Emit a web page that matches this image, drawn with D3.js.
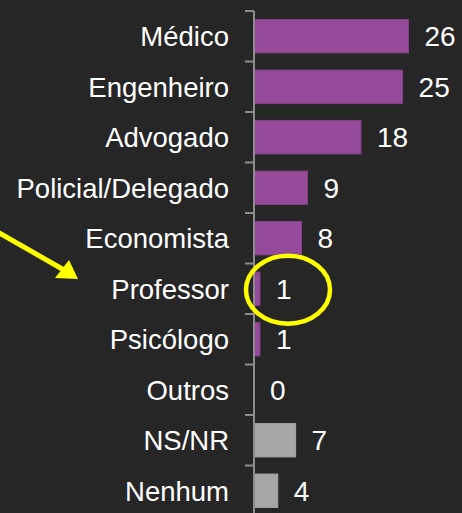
<!DOCTYPE html>
<html>
<head>
<meta charset="utf-8">
<script src="https://cdn.jsdelivr.net/npm/d3@7"></script>
<style>
  html, body { margin: 0; padding: 0; background: #262626; }
  svg { display: block; }
</style>
</head>
<body>
<div id="chart"></div>
<script>
// Categories, top to bottom
var categories = ["Médico", "Engenheiro", "Advogado", "Policial/Delegado", "Economista",
                  "Professor", "Psicólogo", "Outros", "NS/NR", "Nenhum"];
// Values for each category
var values = [26, 25, 18, 9, 8, 1, 1, 0, 7, 4];
// The last two are shown in gray
var grayCategories = ["NS/NR", "Nenhum"];

var width = 462, height = 513;

var svg = d3.select("#chart").append("svg")
    .attr("width", width)
    .attr("height", height);

svg.append("rect")
    .attr("width", width)
    .attr("height", height)
    .attr("fill", "#262626");

// Axis position
var axisX = 254;

var x = d3.scaleLinear()
    .domain([0, 35])
    .range([axisX, axisX + 208]);

var y = d3.scaleBand()
    .domain(categories)
    .range([11, 516])
    .paddingInner(0.34)
    .paddingOuter(0.17);

var data = categories.map(function (c, i) { return { name: c, value: values[i] }; });

// Bars
svg.selectAll(".bar").data(data).enter()
    .append("rect")
    .attr("class", "bar")
    .attr("x", x(0))
    .attr("y", function (d) { return y(d.name); })
    .attr("width", function (d) { return x(d.value) - x(0); })
    .attr("height", y.bandwidth())
    .attr("fill", function (d) { return grayCategories.indexOf(d.name) >= 0 ? "#a6a6a6" : "#954a9a"; })
    .attr("stroke", function (d) { return grayCategories.indexOf(d.name) >= 0 ? "#a6a6a6" : "#85408a"; })
    .attr("stroke-width", 1);

// Value labels
svg.selectAll(".val").data(data).enter()
    .append("text")
    .attr("class", "val")
    .attr("x", function (d) { return x(d.value) + 16; })
    .attr("y", function (d) { return y(d.name) + y.bandwidth() / 2; })
    .attr("dy", "0.36em")
    .style("font-family", "Liberation Sans, Arial, sans-serif")
    .style("font-size", "28px")
    .attr("fill", "#ffffff")
    .text(function (d) { return d.value; });

// Category axis
var band = y.step();
var axisG = svg.append("g");
axisG.append("line")
    .attr("x1", axisX).attr("x2", axisX)
    .attr("y1", 11).attr("y2", 520)
    .attr("stroke", "#8c8c8c")
    .attr("stroke-width", 2);

// Tick marks sit between the categories
axisG.selectAll(".tick").data(categories).enter()
    .append("line")
    .attr("x1", axisX - 9).attr("x2", axisX)
    .attr("y1", function (d) { return y(d) - y.paddingOuter() * band; })
    .attr("y2", function (d) { return y(d) - y.paddingOuter() * band; })
    .attr("stroke", "#8c8c8c")
    .attr("stroke-width", 2);

axisG.selectAll(".cat").data(categories).enter()
    .append("text")
    .attr("class", "cat")
    .attr("x", 229)
    .attr("y", function (d) { return y(d) + y.bandwidth() / 2; })
    .attr("dy", "0.36em")
    .attr("text-anchor", "end")
    .style("font-family", "Liberation Sans, Arial, sans-serif")
    .style("font-size", "27.5px")
    .attr("fill", "#ffffff")
    .text(function (d) { return d; });

// Annotation: ellipse around the Professor value and an arrow pointing at it
var profY = y("Professor") + y.bandwidth() / 2;
svg.append("ellipse")
    .attr("cx", 288)
    .attr("cy", profY + 1)
    .attr("rx", 42)
    .attr("ry", 34)
    .attr("fill", "none")
    .attr("stroke", "#ffff00")
    .attr("stroke-width", 4.5);

svg.append("line")
    .attr("x1", -4).attr("y1", 231)
    .attr("x2", 64).attr("y2", 270)
    .attr("stroke", "#ffff00")
    .attr("stroke-width", 5);

svg.append("polygon")
    .attr("points", "78,279 55,278 69,260")
    .attr("fill", "#ffff00");
</script>
</body>
</html>
